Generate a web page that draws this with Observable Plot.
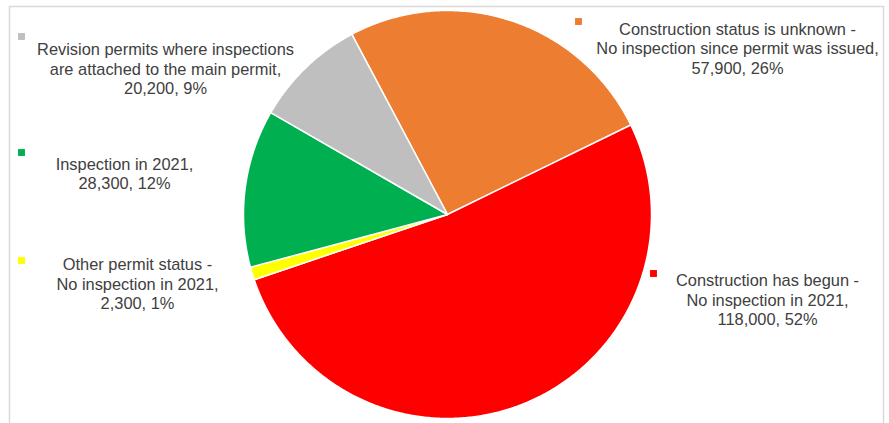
<!DOCTYPE html>
<html>
<head>
<meta charset="utf-8">
<script src="https://cdn.jsdelivr.net/npm/d3@7"></script>
<script src="https://cdn.jsdelivr.net/npm/@observablehq/plot@0.6"></script>
<style>
  html, body { margin: 0; padding: 0; background: #fff; }
  #chart { width: 889px; height: 423px; overflow: hidden; }
</style>
</head>
<body>
<div id="chart"></div>
<script>
// ---- data ----
const categories = [
  "Construction status is unknown -\nNo inspection since permit was issued",
  "Construction has begun -\nNo inspection in 2021",
  "Other permit status -\nNo inspection in 2021",
  "Inspection in 2021",
  "Revision permits where inspections\nare attached to the main permit"
];
const counts = [57900, 118000, 2300, 28300, 20200];
const countLabels = ["57,900", "118,000", "2,300", "28,300", "20,200"];
const percentLabels = ["26%", "52%", "1%", "12%", "9%"];
const colors = ["#ED7D31", "#FF0000", "#FFFF00", "#00B050", "#BFBFBF"];

// ---- layout ----
const W = 889, H = 423;
const cx = 447, cy = 214, R = 204;
const startDeg = -27.96;
// label block centre (tx, ty) and marker position
const labelLayout = [
  {tx: 737, ty: 47.5, mx: 578, my: 21},
  {tx: 767, ty: 299, mx: 653, my: 273},
  {tx: 137, ty: 283, mx: 21, my: 260},
  {tx: 124, ty: 172.5, mx: 21, my: 152},
  {tx: 165, ty: 68, mx: 21, my: 36}
];

const table = categories.map((c, i) => ({
  name: c, value: counts[i], color: colors[i],
  label: `${c},\n${countLabels[i]}, ${percentLabels[i]}`,
  ...labelLayout[i]
}));

const arcs = d3.pie().sort(null).value(d => d.value)
  .startAngle(startDeg * Math.PI / 180)
  .endAngle(startDeg * Math.PI / 180 + 2 * Math.PI)(table);

const slicePts = [];
arcs.forEach((a, i) => {
  slicePts.push({slice: i, color: a.data.color, x: cx, y: cy});
  const n = Math.max(2, Math.ceil((a.endAngle - a.startAngle) / (Math.PI / 360)));
  for (let k = 0; k <= n; k++) {
    const t = a.startAngle + (a.endAngle - a.startAngle) * k / n;
    slicePts.push({slice: i, color: a.data.color, x: cx + R * Math.sin(t), y: cy - R * Math.cos(t)});
  }
});

const chart = Plot.plot({
  width: W, height: H,
  margin: 0,
  x: {domain: [0, W], range: [0, W], axis: null},
  y: {domain: [0, H], range: [0, H], axis: null},
  style: {fontFamily: "'Liberation Sans', Arial, sans-serif", background: "#fff"},
  marks: [
    Plot.frame({stroke: "#d9d9d9", strokeWidth: 1.5, insetLeft: 9, insetTop: 6, insetRight: 6, insetBottom: -10}),
    Plot.line(slicePts, {
      x: "x", y: "y", z: "slice", fill: d => d.color, stroke: "#fff", strokeWidth: 1.5,
      curve: "linear-closed", strokeLinejoin: "round"
    }),
    Plot.dot(table, {x: "mx", y: "my", symbol: "square", r: 3.9, fill: "color", stroke: null}),
    Plot.text(table, {
      x: "tx", y: "ty", text: "label", fill: "#404040", fontSize: 16.4,
      lineHeight: 1.19, lineAnchor: "middle", textAnchor: "middle"
    })
  ]
});
document.getElementById("chart").appendChild(chart);
</script>
</body>
</html>
